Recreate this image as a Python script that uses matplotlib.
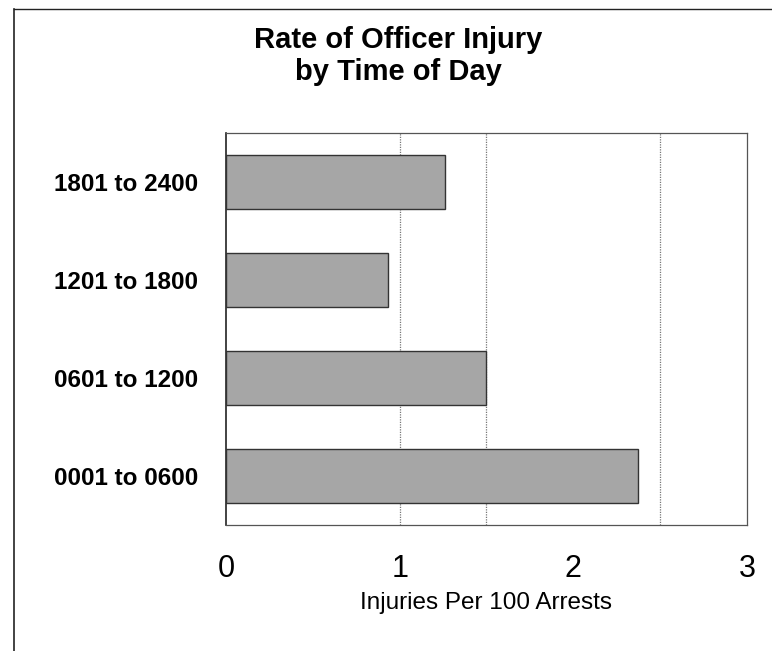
import matplotlib
matplotlib.use("Agg")
import matplotlib.pyplot as plt
from matplotlib.lines import Line2D

categories = ["0001 to 0600", "0601 to 1200", "1201 to 1800", "1801 to 2400"]
values = [2.37, 1.50, 0.93, 1.26]
xticks = [0, 1, 2, 3]
grid_x = [1.0, 1.5, 2.5]

plt.rcParams['font.family'] = ['Liberation Sans', 'DejaVu Sans']

fig = plt.figure(figsize=(7.72, 6.51), dpi=100)
ax = fig.add_axes([226/772, 1-525/651, 521/772, 392/651])

ax.barh(categories, values, height=0.56, color="#a6a6a6", edgecolor="#333333", linewidth=1.0, zorder=3)
for g in grid_x:
    ax.axvline(g, color="#777777", linestyle=(0, (1, 1)), linewidth=0.9, zorder=1)

ax.set_xlim(0, 3)
ax.set_ylim(-0.5, 3.5)
ax.set_xticks(xticks)
ax.set_xticklabels([str(t) for t in xticks], fontsize=22)
ax.tick_params(axis='x', length=0, pad=21)
ax.tick_params(axis='y', length=0, pad=20)
for lab in ax.get_yticklabels():
    lab.set_fontweight('bold')
    lab.set_fontsize(17.5)
ax.set_xlabel("Injuries Per 100 Arrests", fontsize=17.5, labelpad=6)

for s in ['top', 'bottom']:
    ax.spines[s].set_color("#555555")
    ax.spines[s].set_linewidth(0.9)
ax.spines['left'].set_color("#222222")
ax.spines['left'].set_linewidth(1.2)
ax.spines['right'].set_color("#555555")
ax.spines['right'].set_linestyle((0, (2, 1)))
ax.spines['right'].set_linewidth(0.9)

fig.text(398/772, 1-56/651, "Rate of Officer Injury\nby Time of Day", ha='center', va='center',
         fontsize=21, fontweight='bold', linespacing=1.2)

# page frame (top and left)
fig.add_artist(Line2D([14/772, 1.0], [1-9/651, 1-9/651], color="#222222", linewidth=1.0, transform=fig.transFigure))
fig.add_artist(Line2D([14/772, 14/772], [0, 1-9/651], color="#222222", linewidth=1.2, transform=fig.transFigure))

fig.savefig("out.png", dpi=100)
